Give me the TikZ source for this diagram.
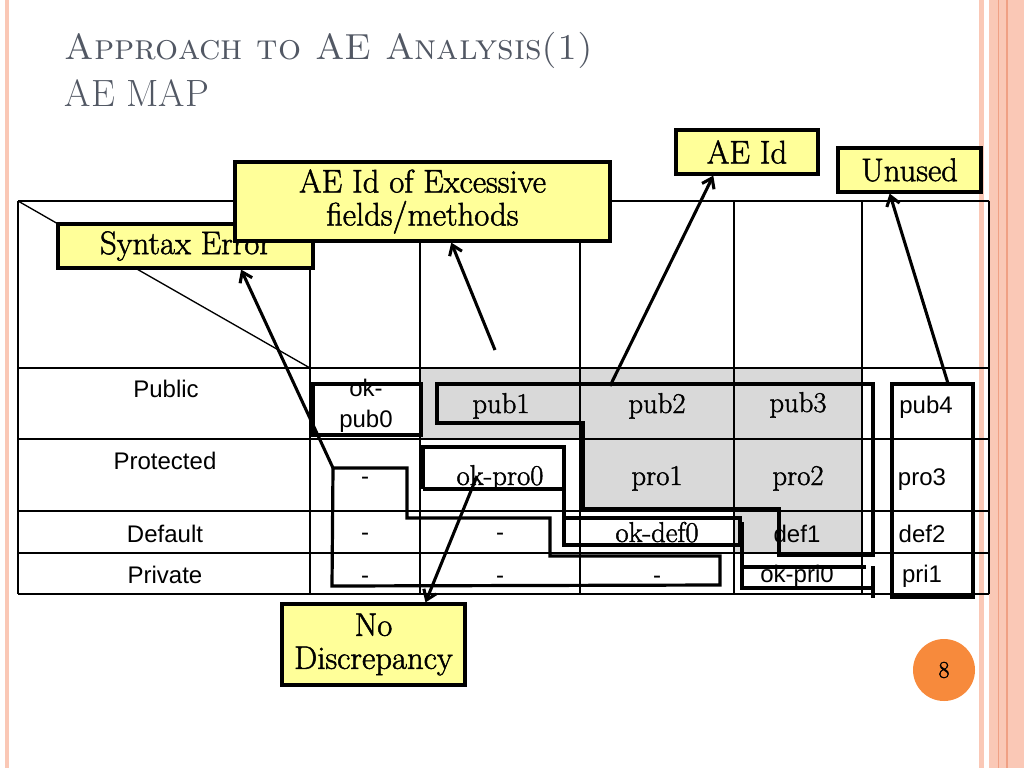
\documentclass[tikz,border=0pt]{standalone}
\usepackage{fontspec}
\newfontfamily\cellsans{Liberation Sans}
\newfontfamily\slideserif{Latin Modern Roman}[FakeBold=1.5]
\usetikzlibrary{arrows.meta}
\definecolor{titlegray}{RGB}{82,88,100}
\definecolor{notefill}{RGB}{255,255,153}
\definecolor{cellgray}{RGB}{217,217,217}
\definecolor{edgepink}{RGB}{250,200,182}
\definecolor{edgeline}{RGB}{240,160,132}
\definecolor{pageorange}{RGB}{247,138,60}
\begin{document}
\begin{tikzpicture}[x=0.75pt,y=-0.75pt,
  note/.style={draw, line width=2.4pt, fill=notefill, align=center, inner sep=0pt, font=\slideserif\fontsize{24.5}{24.75}\selectfont},
  sanscell/.style={anchor=base, font=\cellsans\fontsize{18}{23}\selectfont},
  sericell/.style={anchor=base, font=\slideserif\fontsize{21.5}{23}\selectfont},
  bound/.style={line width=2.4pt},
  pointer/.style={line width=2.3pt, -{Straight Barb[length=7pt,width=10pt]}}]
\useasboundingbox (0,0) rectangle (1024,768);
% slide edges
\fill[edgepink] (5,0) rectangle (9,768);
\fill[edgepink] (979,0) rectangle (984,768);
\fill[edgepink] (989,0) rectangle (1024,768);
\draw[edgeline, line width=0.8pt] (998.5,0) -- (998.5,768);
\draw[edgeline, line width=0.8pt] (1007,0) -- (1007,768);
% title
\node[anchor=base west, text=titlegray, font=\fontsize{27.2}{35}\selectfont] (title1) at (60,59) {\textsc{Approach to AE Analysis(1)}};
\node[anchor=base west, text=titlegray, font=\fontsize{28.5}{35}\selectfont] (title2) at (60,106) {AE MAP};
% table
\fill[cellgray] (420,368) rectangle (862,439);
\fill[cellgray] (580,439) rectangle (862,511);
\fill[cellgray] (734,511) rectangle (862,553);
\foreach \x in {18,310,420,580,734,862,989}
  \draw[line width=1pt] (\x,201) -- (\x,594);
\foreach \y in {201,368,439,511,553,594}
  \draw[line width=1pt] (18,\y) -- (989,\y);
\draw[line width=1pt] (18,201) -- (310,368);
\node[sanscell] (lpub) at (166,397) {Public};
\node[sanscell] (lpro) at (165,469) {Protected};
\node[sanscell] (ldef) at (165,542) {Default};
\node[sanscell] (lpri) at (165,583) {Private};
\node[sanscell, anchor=center, align=center] (okpub) at (366,406) {ok-\\pub0};
\node[sericell] (cpub1) at (501,413) {pub1};
\node[sericell] (cpub2) at (657,413) {pub2};
\node[sericell] (cpub3) at (798,412) {pub3};
\node[sanscell] (cpub4) at (926,413) {pub4};
\node[sanscell] (c1pro) at (365,484) {-};
\node[sericell] (cpro0) at (500,485) {ok-pro0};
\node[sericell] (cpro1) at (657,485) {pro1};
\node[sericell] (cpro2) at (798,485) {pro2};
\node[sanscell] (cpro3) at (922,485) {pro3};
\node[sanscell] (c1def) at (365,540) {-};
\node[sanscell] (c2def) at (500,540) {-};
\node[sericell] (cdef0) at (657,542) {ok-def0};
\node[sanscell] (cdef1) at (797,542) {def1};
\node[sanscell] (cdef2) at (922,542) {def2};
\node[sanscell] (c1pri) at (365,583) {-};
\node[sanscell] (c2pri) at (500,583) {-};
\node[sanscell] (c3pri) at (657,583) {-};
\node[sanscell] (cpri0) at (797,582) {ok-pri0};
\node[sanscell] (cpri1) at (922,582) {pri1};
% groups
\draw[bound] (313,384) rectangle (421,435);
\draw[bound] (437,384) -- (873,384) -- (873,555) -- (779,555) -- (779,509) -- (583,509) -- (583,423) -- (437,423) -- cycle;
\draw[bound] (423,489) -- (423,447) -- (564,447) -- (564,545) -- (740,545) -- (740,518) -- (564,518);
\draw[bound] (423,489) -- (564,489);
\draw[bound] (333,468) -- (407,468) -- (407,518) -- (550,518) -- (550,556) -- (720,556) -- (720,585) -- (332,586) -- cycle;
\draw[bound] (742,522) -- (742,588) -- (873,588);
\draw[bound] (742,567) -- (866,567);
\draw[bound] (873,566) -- (873,598);
\node[draw, line width=2.4pt, minimum width=60.75pt, minimum height=159.75pt, inner sep=0pt] (unusedcol) at (932.5,490.5) {};
% notes
\node[note, minimum width=191.25pt, minimum height=33pt] (synerr) at (185.5,246) {Syntax Error};
\node[note, minimum width=281.25pt, minimum height=59.25pt] (excess) at (422.5,201.5) {AE Id of Excessive\\fields/methods};
\node[note, minimum width=106.5pt, minimum height=33pt] (aeid) at (747,152) {AE Id};
\node[note, minimum width=107.25pt, minimum height=33pt] (unused) at (909.5,170) {Unused};
\node[note, minimum width=137.25pt, minimum height=60.75pt] (nodisc) at (373.5,644.5) {No\\Discrepancy};
% pointers
\coordinate (dashTL) at (333,468);
\coordinate (exFoot) at (495,350);
\coordinate (pubTop) at (610,386);
\coordinate (proMid) at (477,476);
\draw[pointer] (dashTL) -- (synerr.-23);
\draw[pointer] (exFoot) -- (excess.-55);
\draw[pointer] (pubTop) -- (aeid.-145);
\draw[pointer] (unusedcol.82) -- (unused.-130);
\draw[pointer] (proMid) -- (nodisc.39);
% page number
\node[circle, fill=pageorange, minimum size=46.5pt, inner sep=0pt, font=\slideserif\fontsize{18}{20}\selectfont] (pagenum) at (944,670) {8};
\end{tikzpicture}
\end{document}
